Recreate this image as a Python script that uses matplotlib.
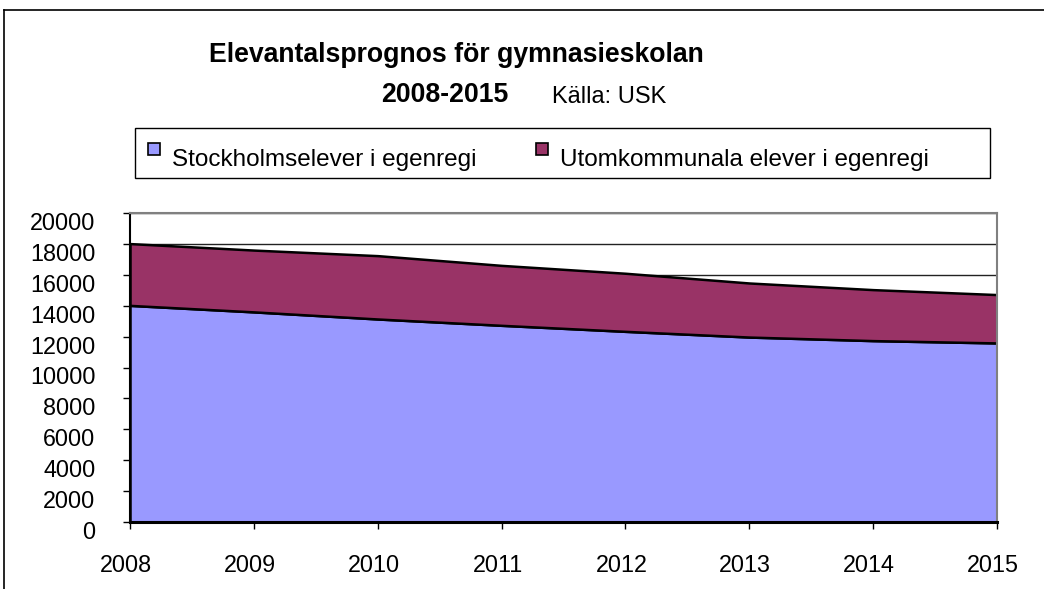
"""
Elevantalsprognos för gymnasieskolan 2008-2015
"""

import matplotlib
matplotlib.use("Agg")
import matplotlib.pyplot as plt
import matplotlib.transforms as mtransforms
from matplotlib.patches import Rectangle
from matplotlib.lines import Line2D

plt.rcParams["font.family"] = ["Liberation Sans", "DejaVu Sans"]

years = [2008, 2009, 2010, 2011, 2012, 2013, 2014, 2015]
stockholm = [14020, 13600, 13140, 12730, 12340, 11970, 11740, 11590]
utomkommunala = [4000, 4000, 4100, 3880, 3760, 3500, 3300, 3130]
series_labels = ["Stockholmselever i egenregi", "Utomkommunala elever i egenregi"]
colors = ["#9999FF", "#993366"]
yticks = list(range(0, 20001, 2000))

W, H = 1044, 589
fig = plt.figure(figsize=(W / 100, H / 100), dpi=100)


def fx(px):
    return px / W


def fy(py):
    return 1 - py / H


# outer frame (top and left visible)
fig.add_artist(Line2D([fx(4), fx(4)], [fy(10), 0], color="black", lw=1.2))
fig.add_artist(Line2D([fx(4), 1], [fy(10), fy(10)], color="black", lw=1.2))

ax = fig.add_axes([fx(130), fy(522), fx(997) - fx(130), fy(213) - fy(522)])

for v in yticks[1:]:
    ax.axhline(v, color="#222222", lw=1.0, zorder=0)

ax.stackplot(years, stockholm, utomkommunala, colors=colors,
             edgecolor="black", linewidth=1.8, zorder=2)

ax.set_xlim(2008, 2015)
ax.set_ylim(0, 20000)
ax.set_xticks(years)
ax.set_yticks(yticks)
ax.tick_params(axis="both", direction="out", length=5, width=1, labelsize=16.8, color="black")
ax.tick_params(axis="y", pad=20)
ax.tick_params(axis="x", pad=18)

for lbl in ax.get_yticklabels():
    lbl.set_transform(lbl.get_transform() + mtransforms.ScaledTranslation(0, -0.08, fig.dpi_scale_trans))
for lbl in ax.get_xticklabels():
    lbl.set_transform(lbl.get_transform() + mtransforms.ScaledTranslation(-0.04, 0, fig.dpi_scale_trans))

ax.spines["top"].set_color("#808080")
ax.spines["right"].set_color("#808080")
ax.spines["top"].set_linewidth(1.5)
ax.spines["right"].set_linewidth(1.5)
ax.spines["left"].set_linewidth(1.5)
ax.spines["bottom"].set_linewidth(2.2)
for s in ax.spines.values():
    s.set_zorder(3)

# title
fig.text(fx(456), fy(55), "Elevantalsprognos för gymnasieskolan", ha="center", va="center",
         fontsize=19.2, fontweight="bold")
fig.text(fx(445), fy(95), "2008-2015", ha="center", va="center", fontsize=19.2, fontweight="bold")
fig.text(fx(552), fy(97), "Källa: USK", ha="left", va="center", fontsize=17)

# legend box
fig.add_artist(Rectangle((fx(135), fy(178)), fx(990) - fx(135), fy(128) - fy(178),
                         facecolor="white", edgecolor="black", lw=1.0, transform=fig.transFigure))
marker_x = [148, 536]
for mx, lab, c in zip(marker_x, series_labels, colors):
    fig.add_artist(Rectangle((fx(mx), fy(155)), fx(12), fy(143) - fy(155),
                             facecolor=c, edgecolor="black", lw=1.2, transform=fig.transFigure))
    fig.text(fx(mx + 24), fy(160), lab, ha="left", va="center", fontsize=17.5)

fig.savefig("out.png", dpi=100)
